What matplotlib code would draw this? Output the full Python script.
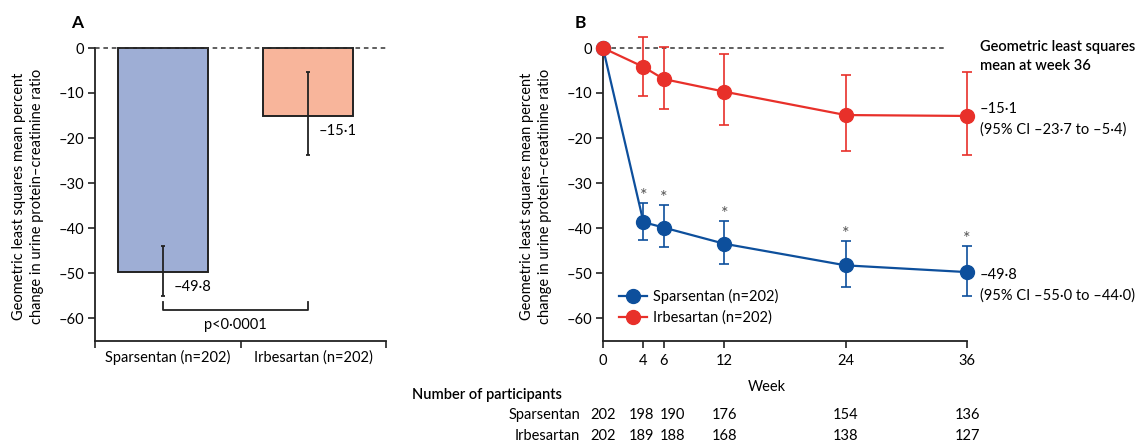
import numpy as np
import matplotlib.pyplot as plt
import matplotlib.transforms as mtransforms

# panel A: week-36 geometric LS mean change
groups = ["Sparsentan (n=202)", "Irbesartan (n=202)"]
bar_means = [-49.8, -15.1]
bar_lo = [-55.0, -23.7]
bar_hi = [-44.0, -5.4]

# panel B: time course
weeks = [0, 4, 6, 12, 24, 36]
spar_mean = [0, -38.7, -39.9, -43.5, -48.3, -49.8]
spar_lo = [0, -42.7, -44.2, -48.0, -53.1, -55.0]
spar_hi = [0, -34.4, -35.0, -38.4, -42.9, -44.0]
irb_mean = [0, -4.2, -6.9, -9.7, -14.9, -15.1]
irb_lo = [0, -10.6, -13.5, -17.1, -22.8, -23.7]
irb_hi = [0, 2.5, 0.3, -1.4, -6.1, -5.4]

n_spar = [202, 198, 190, 176, 154, 136]
n_irb = [202, 189, 188, 168, 138, 127]

yticks = [0, -10, -20, -30, -40, -50, -60]
ylabel = "Geometric least squares mean percent\nchange in urine protein\u2013creatinine ratio"

plt.rcParams["font.family"] = ["Lato", "DejaVu Sans"]
plt.rcParams["font.size"] = 10

BLUE = "#0d4f9c"
RED = "#e8302a"
BAR_BLUE = "#9eaed5"
BAR_RED = "#f8b59b"
INK = "#222222"


def fmt(v):
    s = ("%.1f" % abs(v)).replace(".", "\u00b7")
    return ("\u2013" + s) if v < 0 else s


def ci_text(lo, hi):
    return "(95% CI " + fmt(lo) + " to " + fmt(hi) + ")"


def style_axis(ax):
    ax.set_ylim(-65, 3)
    ax.spines["top"].set_visible(False)
    ax.spines["right"].set_visible(False)
    ax.spines["left"].set_bounds(-65, 0)
    for s in ("left", "bottom"):
        ax.spines[s].set_linewidth(1.3)
        ax.spines[s].set_color(INK)
    ax.set_yticks(yticks)
    ax.set_yticklabels([("\u2013%d" % -t) if t < 0 else "0" for t in yticks])
    ax.tick_params(direction="out", length=5, width=1.2, color=INK, labelsize=10.5, pad=3)


fig = plt.figure(figsize=(11.46, 4.44), dpi=100)
H = 444.0
W = 1146.0
bottom = (H - 340.5) / H
height = 306.0 / H

# ---------------- panel A ----------------
axA = fig.add_axes([95 / W, bottom, 291 / W, height])
xa = [0.47, 1.465]
axA.bar(xa, bar_means, width=0.62, bottom=0, color=[BAR_BLUE, BAR_RED],
        edgecolor=INK, linewidth=1.4, zorder=2)
yerr = [np.array(bar_means) - np.array(bar_lo), np.array(bar_hi) - np.array(bar_means)]
axA.errorbar(xa, bar_means, yerr=yerr, fmt="none", ecolor=INK, elinewidth=1.3,
             capsize=1.5, capthick=1.3, zorder=3)
axA.plot([0, 2.005], [0, 0], ls=(0, (3, 2.5)), color="#333333", lw=1.1, clip_on=False, zorder=4)
for x, m in zip(xa, bar_means):
    axA.text(x + 0.07, m - 3.4, fmt(m), fontsize=10.5, ha="left", va="center")
# p-value bracket
axA.plot([xa[0], xa[0], xa[1], xa[1]], [-56.4, -58.2, -58.2, -56.4], color=INK, lw=1.3)
axA.text(sum(xa) / 2, -61.6, "p<0\u00b70001", ha="center", va="center", fontsize=10.5)
axA.set_xlim(0, 2)
axA.set_xticks([0, 1, 2])
axA.set_xticklabels([])
axA.set_xticks([0.5, 1.5], minor=True)
axA.set_xticklabels(groups, minor=True)
style_axis(axA)
axA.tick_params(axis="x", which="minor", length=0, labelsize=10.5, pad=7)
axA.set_ylabel(ylabel, fontsize=10.5, linespacing=1.4, ha="center")
axA.yaxis.set_label_coords(-0.175, 0.47)
fig.text(71 / W, 1 - 23 / H, "A", fontsize=12.5, fontweight="bold", va="center")

# ---------------- panel B ----------------
axB = fig.add_axes([603 / W, bottom, 364 / W, height])
axB.plot([0, 33.7], [0, 0], ls=(0, (3, 2.5)), color="#333333", lw=1.1, zorder=1)
for mean, lo, hi, col, lab in [
    (spar_mean, spar_lo, spar_hi, BLUE, "Sparsentan (n=202)"),
    (irb_mean, irb_lo, irb_hi, RED, "Irbesartan (n=202)"),
]:
    m = np.array(mean)
    err = [m - np.array(lo), np.array(hi) - m]
    axB.errorbar(weeks[1:], m[1:], yerr=[err[0][1:], err[1][1:]], fmt="none", ecolor=col,
                 elinewidth=1.2, capsize=3.5, capthick=1.2, zorder=3, clip_on=False)
    axB.plot(weeks, mean, "-o", color=col, lw=1.6, markersize=10, label=lab,
             zorder=4, clip_on=False)
for w, h in zip(weeks[1:], spar_hi[1:]):
    axB.text(w, h + 1.6, "*", ha="center", va="center", fontsize=13, color="#555555")
axB.set_xlim(0, 36)
axB.set_xticks(weeks)
style_axis(axB)
axB.tick_params(axis="x", pad=5)
axB.set_xlabel("Week", fontsize=10.5)
axB.xaxis.set_label_coords(0.45, -0.13)
axB.set_ylabel(ylabel, fontsize=10.5, linespacing=1.4, ha="center")
axB.yaxis.set_label_coords(-0.14, 0.47)
axB.legend(loc="lower left", bbox_to_anchor=(0.045, 0.05), frameon=False, fontsize=10.5,
           handlelength=1.9, handletextpad=0.4, labelspacing=0.45, borderpad=0,
           borderaxespad=0)
fig.text(575 / W, 1 - 23 / H, "B", fontsize=12.5, fontweight="bold", va="center")

# annotations at week 36
tx = 980 / W
fig.text(tx, 1 - 47 / H, "Geometric least squares", fontsize=10.5, fontweight="semibold", va="center")
fig.text(tx, 1 - 66 / H, "mean at week 36", fontsize=10.5, fontweight="semibold", va="center")
fig.text(tx, 1 - 109 / H, fmt(irb_mean[-1]), fontsize=10.5, va="center")
fig.text(tx, 1 - 130 / H, ci_text(irb_lo[-1], irb_hi[-1]), fontsize=10.5, va="center")
fig.text(tx, 1 - 275 / H, fmt(spar_mean[-1]), fontsize=10.5, va="center")
fig.text(tx, 1 - 296 / H, ci_text(spar_lo[-1], spar_hi[-1]), fontsize=10.5, va="center")

# number of participants table
trans = mtransforms.blended_transform_factory(axB.transData, fig.transFigure)
nudge = [0, -2, 9, 0, 0, 0]  # pixels, keeps week 4 and 6 columns apart
fig.text(412 / W, 1 - 395 / H, "Number of participants", fontsize=10.5, fontweight="semibold", va="center")
for name, counts, yy in [("Sparsentan", n_spar, 415), ("Irbesartan", n_irb, 436)]:
    fig.text(580 / W, 1 - yy / H, name, fontsize=10.5, ha="right", va="center")
    for w, c, dx in zip(weeks, counts, nudge):
        t = trans + mtransforms.ScaledTranslation(dx / 100.0, 0, fig.dpi_scale_trans)
        fig.text(w, 1 - yy / H, str(c), fontsize=10.5, ha="center", va="center", transform=t)

fig.savefig("out.png", dpi=100)
